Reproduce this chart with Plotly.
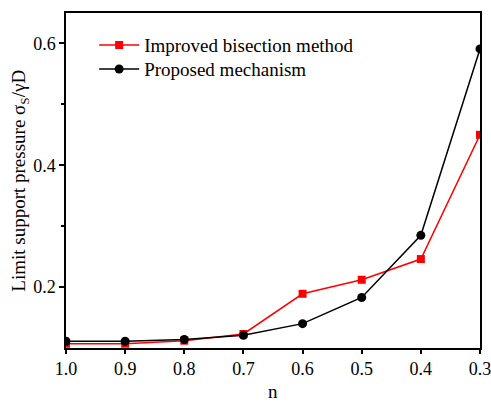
import plotly.graph_objects as go

n_values = [1.0, 0.9, 0.8, 0.7, 0.6, 0.5, 0.4, 0.3]
improved_bisection = [0.107, 0.107, 0.112, 0.123, 0.189, 0.212, 0.246, 0.450]
proposed_mechanism = [0.111, 0.111, 0.114, 0.121, 0.140, 0.183, 0.285, 0.591]
x_ticks = [1.0, 0.9, 0.8, 0.7, 0.6, 0.5, 0.4, 0.3]
x_tick_labels = ["1.0", "0.9", "0.8", "0.7", "0.6", "0.5", "0.4", "0.3"]
y_ticks = [0.2, 0.4, 0.6]
y_tick_labels = ["0.2", "0.4", "0.6"]

FONT = "Liberation Serif, Times New Roman, serif"

fig = go.Figure()
fig.add_trace(go.Scatter(
    x=n_values, y=improved_bisection, mode="lines+markers",
    name="Improved bisection method",
    line=dict(color="#ff0000", width=1.5),
    marker=dict(symbol="square", size=8, color="#ff0000"),
    cliponaxis=True, legend="legend",
))
fig.add_trace(go.Scatter(
    x=n_values, y=proposed_mechanism, mode="lines+markers",
    name="Proposed mechanism",
    line=dict(color="#000000", width=1.5),
    marker=dict(symbol="circle", size=9, color="#000000"),
    cliponaxis=True, legend="legend2",
))

legend_common = dict(xanchor="left", yanchor="top", bgcolor="rgba(0,0,0,0)",
                     font=dict(size=19, family=FONT), itemwidth=40)

fig.update_layout(
    width=491, height=403,
    margin=dict(l=66, r=11, t=13, b=55, autoexpand=False),
    paper_bgcolor="white", plot_bgcolor="white",
    font=dict(family=FONT, size=18, color="black"),
    showlegend=True,
    legend=dict(x=0.068, y=0.961, **legend_common),
    legend2=dict(x=0.068, y=0.889, **legend_common),
    xaxis=dict(
        range=[1.0, 0.3], tickvals=x_ticks, ticktext=x_tick_labels,
        showgrid=False, zeroline=False, automargin=False,
        ticklabeloverflow="allow",
        showline=True, linecolor="black", linewidth=1.5, mirror=True,
        ticks="outside", ticklen=4, tickwidth=1.5, tickcolor="black",
        tickfont=dict(size=18, family=FONT),
    ),
    yaxis=dict(
        range=[0.1, 0.65], tickvals=y_ticks, ticktext=y_tick_labels,
        showgrid=False, zeroline=False, automargin=False,
        ticklabeloverflow="allow",
        showline=True, linecolor="black", linewidth=1.5, mirror=True,
        ticks="outside", ticklen=5, tickwidth=1.5, tickcolor="black",
        minor=dict(tickvals=[0.3, 0.5], ticks="outside", ticklen=3, tickwidth=1.5, tickcolor="black"),
        tickfont=dict(size=18, family=FONT),
    ),
    annotations=[
        dict(text="n", xref="paper", yref="paper", x=0.5, y=-0.131,
             xanchor="center", yanchor="middle", showarrow=False,
             font=dict(size=19, family=FONT)),
        dict(text="Limit support pressure σ<sub>S</sub>/γD", xref="paper", yref="paper",
             x=-0.113, y=0.5, xanchor="center", yanchor="middle", textangle=-90,
             showarrow=False, font=dict(size=19, family=FONT)),
    ],
)

fig.write_html("out.html")
